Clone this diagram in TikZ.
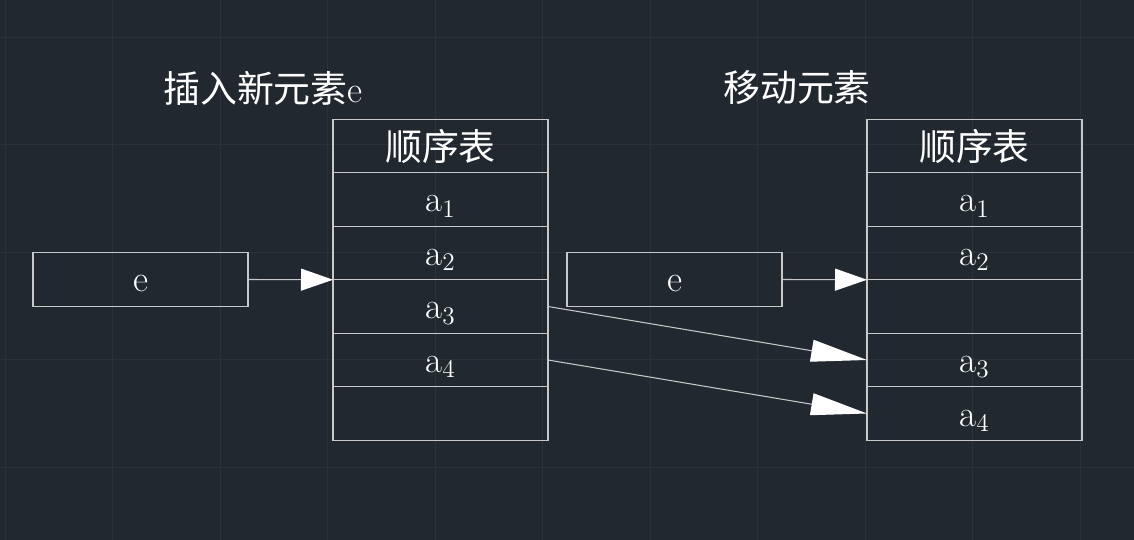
\documentclass[tikz,border=0pt]{standalone}
\usepackage{fontspec}
\newfontfamily\cjk{Noto Sans CJK SC}
\usetikzlibrary{positioning,arrows.meta}
\definecolor{bgcol}{HTML}{212830}
\definecolor{gridcol}{HTML}{2B323C}
\definecolor{linecol}{HTML}{C8C8C8}
\tikzset{
  cell/.style={draw=linecol,line width=0.6pt,minimum width=4.3cm,minimum height=1.07cm,
    inner sep=0pt,outer sep=0pt,text=white,font=\fontsize{21}{25}\selectfont},
  item/.style={cell,text height=0.6cm,text depth=0.1cm},
  heading/.style={text=white,font=\fontsize{21}{25}\selectfont},
  insarrow/.style={draw=linecol,line width=0.6pt,-{Triangle[length=0.64cm,width=0.44cm,fill=white,color=white]}},
  movearrow/.style={draw=linecol,line width=0.6pt,-{Triangle[length=1.12cm,width=0.44cm,fill=white,color=white]}}
}
\begin{document}
\begin{tikzpicture}
        %% Background
        \fill[bgcol] (0,0) rectangle (22.68,-10.8);
        \useasboundingbox (0,0) rectangle (22.68,-10.8);
        \foreach \x in {0.1,2.25,...,22.6}
          \draw[gridcol] (\x,0) -- (\x,-10.8);
        \foreach \y in {-0.74,-2.89,...,-10.7}
          \draw[gridcol] (0,\y) -- (22.68,\y);
        %% Titles
        \node[heading] (tins) at (5.26,-1.76) {{\cjk 插入新元素}e};
        \node[heading] (tmov) at (15.94,-1.76) {\cjk 移动元素};
        %% Left table
        \node[cell] (lhead) at (8.81,-2.92) {\cjk 顺序表};
        \node[item,below=0pt of lhead] (la1) {$\mathrm{a}_1$};
        \node[item,below=0pt of la1] (la2) {$\mathrm{a}_2$};
        \node[item,below=0pt of la2] (la3) {$\mathrm{a}_3$};
        \node[item,below=0pt of la3] (la4) {$\mathrm{a}_4$};
        \node[item,below=0pt of la4] (lfree) {};
        %% Right table
        \node[cell] (rhead) at (19.49,-2.92) {\cjk 顺序表};
        \node[item,below=0pt of rhead] (ra1) {$\mathrm{a}_1$};
        \node[item,below=0pt of ra1] (ra2) {$\mathrm{a}_2$};
        \node[item,below=0pt of ra2] (rgap) {};
        \node[item,below=0pt of rgap] (ra3) {$\mathrm{a}_3$};
        \node[item,below=0pt of ra3] (ra4) {$\mathrm{a}_4$};
        %% New element
        \node[item] (le) at (2.81,-5.59) {e};
        \node[item] (re) at (13.49,-5.59) {e};
        %% Arrows
        \draw[insarrow] (le.east) -- (la2.south west);
        \draw[insarrow] (re.east) -- (ra2.south west);
        \draw[movearrow] (la3.east) -- (ra3.west);
        \draw[movearrow] (la4.east) -- (ra4.west);
\end{tikzpicture}
\end{document}
